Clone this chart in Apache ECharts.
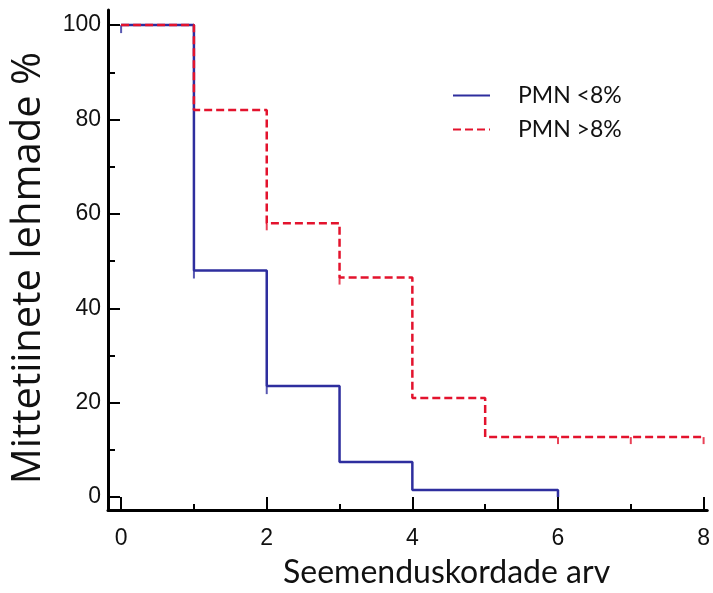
<!DOCTYPE html>
<html>
<head>
<meta charset="utf-8">
<script src="https://cdn.jsdelivr.net/npm/echarts@6/dist/echarts.min.js"></script>
<style>
html,body{margin:0;padding:0;background:#fff;}
#chart{width:713px;height:593px;}
</style>
</head>
<body>
<div id="chart"></div>
<script>
// Data (Kaplan–Meier style step curves)
const seriesNames = ['PMN <8%', 'PMN >8%'];
const lowX = [0, 1, 2, 3, 4, 6, 6];
const lowY = [100, 48, 23.5, 7.4, 1.5, 1.5, 0];
const highX = [0, 1, 2, 3, 4, 5, 8];
const highY = [100, 82, 58, 46.5, 21, 12.7, 12.7];
const lowCensorX = [0, 1, 2];
const lowCensorY = [100, 48, 23.5];
const highCensorX = [2, 3, 6, 7, 8];
const highCensorY = [58, 46.5, 12.7, 12.7, 12.7];
const xMajorTicks = [0, 2, 4, 6, 8];
const xMinorTicks = [1, 3, 5, 7];
const yMajorTicks = [0, 20, 40, 60, 80, 100];
const yMinorTicks = [10, 30, 50, 70, 90];
const xTitle = 'Seemenduskordade arv';
const yTitle = 'Mittetiinete lehmade %';

const zip = (a, b) => a.map((v, i) => [v, b[i]]);
const BLUE = '#2e2e9e';
const RED = '#e3132d';

const chart = echarts.init(document.getElementById('chart'));
const option = {
  animation: false,
  backgroundColor: '#fff',
  grid: {left: 108, right: 1, top: 10, bottom: 83, containLabel: false},
  xAxis: [
    {
      type: 'value', min: -0.18, max: 8.05,
      axisLine: {show: true, onZero: false, lineStyle: {color: '#000', width: 3}},
      axisTick: {show: true, inside: true, length: 13, customValues: xMajorTicks, lineStyle: {color: '#000', width: 2}},
      axisLabel: {show: true, customValues: xMajorTicks, margin: 17, color: '#111', fontFamily: 'Liberation Sans', fontSize: 23},
      splitLine: {show: false}
    },
    {
      type: 'value', min: -0.18, max: 8.05, position: 'bottom',
      axisLine: {show: false, onZero: false},
      axisTick: {show: true, inside: true, length: 6, customValues: xMinorTicks, lineStyle: {color: '#000', width: 2}},
      axisLabel: {show: false},
      splitLine: {show: false}
    }
  ],
  yAxis: [
    {
      type: 'value', min: -2.75, max: 103.2,
      axisLine: {show: true, onZero: false, lineStyle: {color: '#000', width: 3}},
      axisTick: {show: true, inside: true, length: 12, customValues: yMajorTicks, lineStyle: {color: '#000', width: 2}},
      axisLabel: {show: true, customValues: yMajorTicks, margin: 7, color: '#111', fontFamily: 'Liberation Sans', fontSize: 23},
      splitLine: {show: false}
    },
    {
      type: 'value', min: -2.75, max: 103.2, position: 'left',
      axisLine: {show: false, onZero: false},
      axisTick: {show: true, inside: true, length: 7, customValues: yMinorTicks, lineStyle: {color: '#000', width: 2}},
      axisLabel: {show: false},
      splitLine: {show: false}
    }
  ],
  legend: {
    show: true,
    orient: 'vertical',
    left: 447, top: 79,
    itemWidth: 37, itemHeight: 14, itemGap: 11,
    data: seriesNames,
    itemStyle: {opacity: 0},
    textStyle: {fontFamily: 'Lato', fontSize: 23, color: '#111', padding: [0, 0, 0, 23]}
  },
  graphic: [
    {type: 'text', left: 283, top: 557, style: {text: xTitle, fontFamily: 'Lato', fontSize: 32, fill: '#111'}},
    {type: 'text', x: 29, y: 268, rotation: Math.PI / 2, style: {text: yTitle, fontFamily: 'Open Sans', fontSize: 40, fill: '#111', align: 'center', verticalAlign: 'middle'}}
  ],
  series: [
    {
      name: seriesNames[0], type: 'line', step: 'end', symbol: 'none',
      xAxisIndex: 0, yAxisIndex: 0,
      data: zip(lowX, lowY),
      lineStyle: {color: BLUE, width: 2.5}, itemStyle: {color: BLUE}, z: 3
    },
    {
      name: seriesNames[1], type: 'line', step: 'end', symbol: 'none',
      xAxisIndex: 0, yAxisIndex: 0,
      data: zip(highX, highY),
      lineStyle: {color: RED, width: 2.5, type: [8, 4]}, itemStyle: {color: RED}, z: 4
    },
    {
      type: 'scatter', xAxisIndex: 0, yAxisIndex: 0,
      data: zip(lowCensorX, lowCensorY),
      symbol: 'rect', symbolSize: [2, 8], symbolOffset: [0, 4],
      itemStyle: {color: BLUE}, z: 3, silent: true
    },
    {
      type: 'scatter', xAxisIndex: 0, yAxisIndex: 0,
      data: zip(highCensorX, highCensorY),
      symbol: 'rect', symbolSize: [2, 7], symbolOffset: [0, 3.5],
      itemStyle: {color: RED}, z: 4, silent: true
    }
  ]
};
chart.setOption(option);
</script>
</body>
</html>
